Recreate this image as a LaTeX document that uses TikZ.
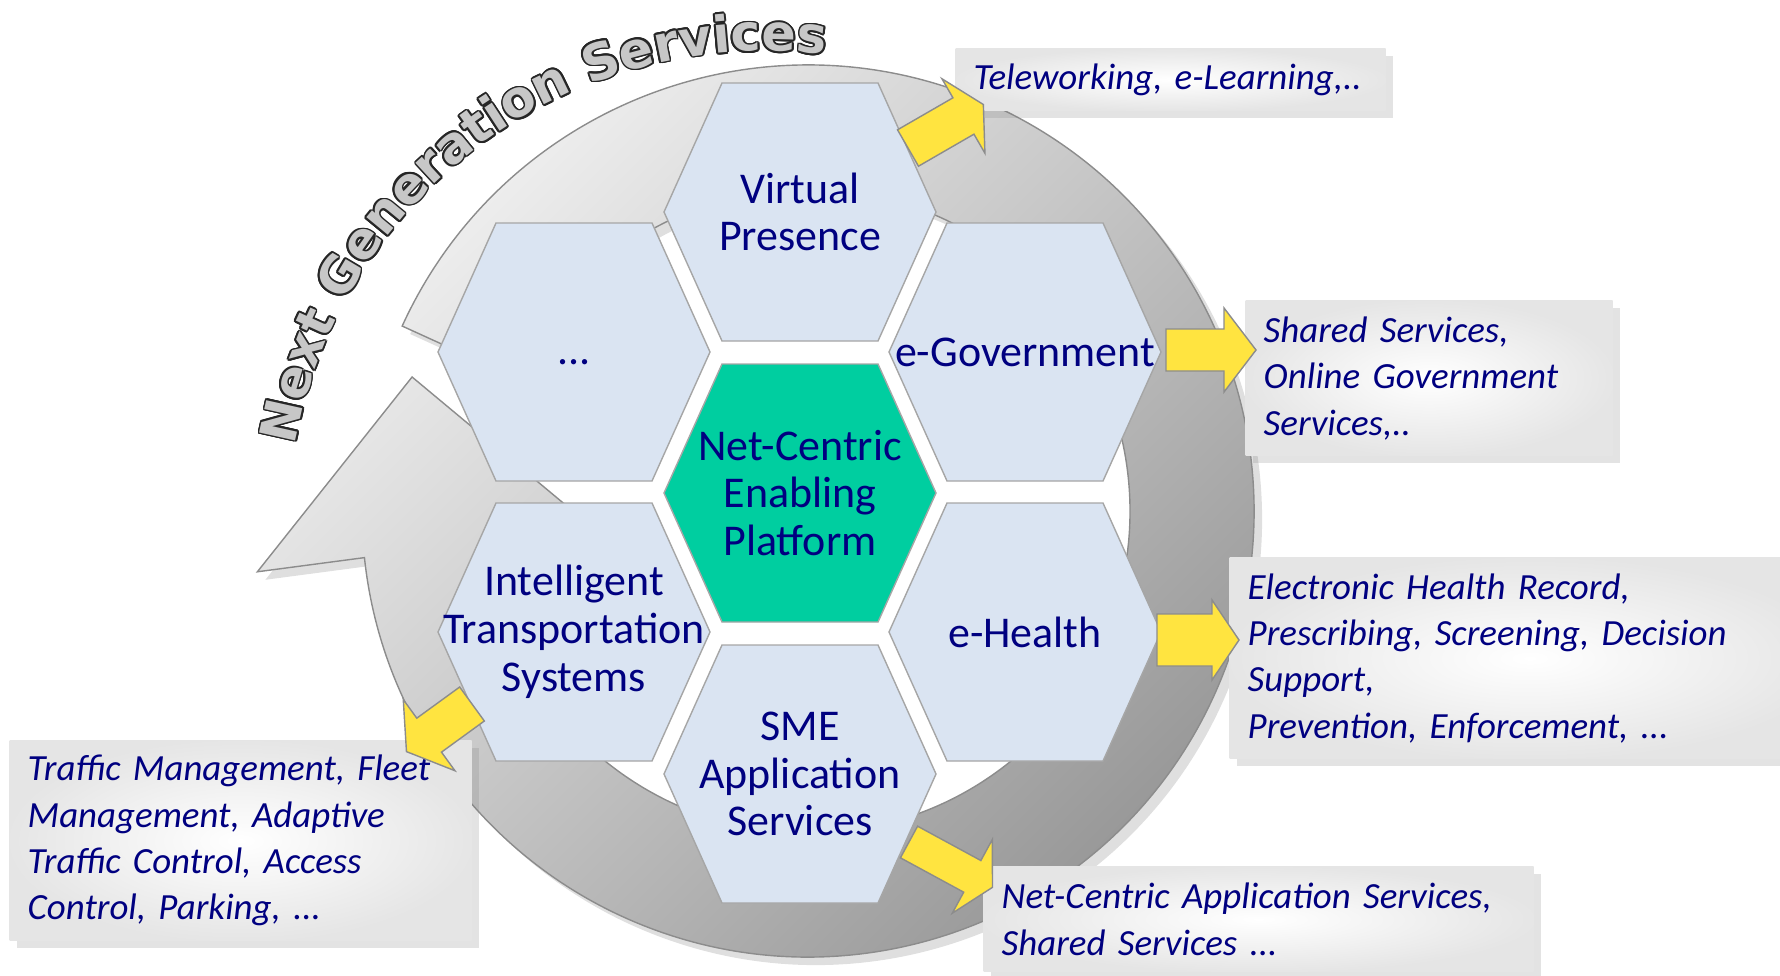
\documentclass[tikz,border=0pt]{standalone}
\usepackage{fontspec}
\setmainfont{Carlito}
\newfontfamily\ngsfont{DejaVu Sans}
\usepackage[copies]{contour}
\contourlength{0.5pt}
\usetikzlibrary{decorations.text, shadows}

\definecolor{navy}{RGB}{0,0,128}
\definecolor{hexblue}{RGB}{218,228,242}
\definecolor{hexteal}{RGB}{0,206,160}
\definecolor{arrowyellow}{RGB}{255,228,64}

\newcommand{\ngsletter}[1]{\contour{black!85}{#1}}

\tikzset{
  hexa/.style={draw=black!35, fill=hexblue,
    drop shadow={opacity=0.3, shadow xshift=0.6mm, shadow yshift=-0.6mm}},
  hexcore/.style={hexa, fill=hexteal},
  hexlabel/.style={text=navy, align=center, font=\fontsize{12.5}{13.6}\selectfont},
  infobox/.style={anchor=north west, inner color=white, outer color=black!10,
    drop shadow={opacity=0.22, shadow xshift=0.7mm, shadow yshift=-0.7mm},
    text=navy, align=left, inner xsep=1.8mm,
    font=\fontsize{10.5}{13.2}\selectfont\itshape},
  yarrow/.style={draw=black!45, fill=arrowyellow},
  pics/hexcell/.style={code={
    \path[pic actions] (-136,0) -- (-78,-129) -- (78,-129) -- (136,0)
      -- (78,129) -- (-78,129) -- cycle;}},
  pics/blockarrow/.style args={#1/#2/#3/#4}{code={
    \path[pic actions] (0,-#3) -- (#2,-#3) -- (#2,-#4) -- (#1,0)
      -- (#2,#4) -- (#2,#3) -- (0,#3) -- cycle;}},
}

\begin{document}
\begin{tikzpicture}[x=0.1mm, y=-0.1mm]
    \path[use as bounding box] (0,0) rectangle (1780,975);

    % Big circular arrow
    \begin{scope}[shift={(808,511)}]
        \shade[draw=black!45, top color=black!4, bottom color=black!42, shading angle=45,
               drop shadow={opacity=0.25, shadow xshift=0.8mm, shadow yshift=-0.8mm}]
            (204.5:446) arc[start angle=204.5, end angle=534, radius=446]
            -- (533.7:554) -- (558.7:418) -- (534:210) -- (534:322)
            arc[start angle=534, end angle=204.5, radius=322] -- cycle;
    \end{scope}

    % Hexagons
    \pic[hexa] at (800,212) {hexcell};
    \node[hexlabel] (vp) at (800,212) {Virtual\\Presence};
    \pic[hexa] at (574,352) {hexcell};
    \node[hexlabel] (more) at (574,362) {...};
    \pic[hexa] at (1025,352) {hexcell};
    \node[hexlabel] (egov) at (1025,352) {e-Government};
    \pic[hexcore] at (800,493) {hexcell};
    \node[hexlabel] (core) at (800,493) {Net-Centric\\Enabling\\Platform};
    \pic[hexa] at (574,632) {hexcell};
    \node[hexlabel] (its) at (574,632) {Intelligent\\Transportation\\Systems};
    \pic[hexa] at (1025,632) {hexcell};
    \node[hexlabel] (ehealth) at (1025,632) {e-Health};
    \pic[hexa] at (800,774) {hexcell};
    \node[hexlabel] (sme) at (800,774) {SME\\Application\\Services};

    % Service boxes
    \node[infobox, text width=39.4mm, minimum height=6.2mm] (tele) at (955,48)
        {Teleworking, e-Learning,..};
    \node[infobox, text width=33.1mm, minimum height=15.5mm] (shared) at (1245,300)
        {Shared Services,\\Online Government\\Services,..};
    \node[infobox, text width=56.4mm, minimum height=20.1mm] (ehr) at (1229,557)
        {Electronic Health Record,\\Prescribing, Screening, Decision\\Support,\\Prevention, Enforcement, ...};
    \node[infobox, text width=51.4mm, minimum height=10.5mm] (nca) at (983,866)
        {Net-Centric Application Services,\\Shared Services ...};
    \node[infobox, text width=42.6mm, minimum height=20mm] (traffic) at (9,740)
        {Traffic Management, Fleet\\Management, Adaptive\\Traffic Control, Access\\Control, Parking, ...};

    % Yellow arrows
    \pic[yarrow, rotate=30] at (908,148) {blockarrow={87/64/21/43}};
    \pic[yarrow] at (1166,350) {blockarrow={90/58/21/42}};
    \pic[yarrow] at (1157,640) {blockarrow={82/55/26/40}};
    \pic[yarrow, rotate=-28.5] at (909,842) {blockarrow={95/72/18/42}};
    \pic[yarrow, rotate=216] at (472,704) {blockarrow={81/53/21/44}};

    % Curved title
    \path[decorate, decoration={text effects along path, text={Next Generation Services},
          text effects/.cd, text along path,
          every character/.style={font=\ngsfont\bfseries\fontsize{14.4}{14.4}\selectfont, text=black!22},
          character command=\ngsletter}]
        (765,528) ++(190:477) arc[start angle=190, end angle=290, radius=477];
\end{tikzpicture}
\end{document}
